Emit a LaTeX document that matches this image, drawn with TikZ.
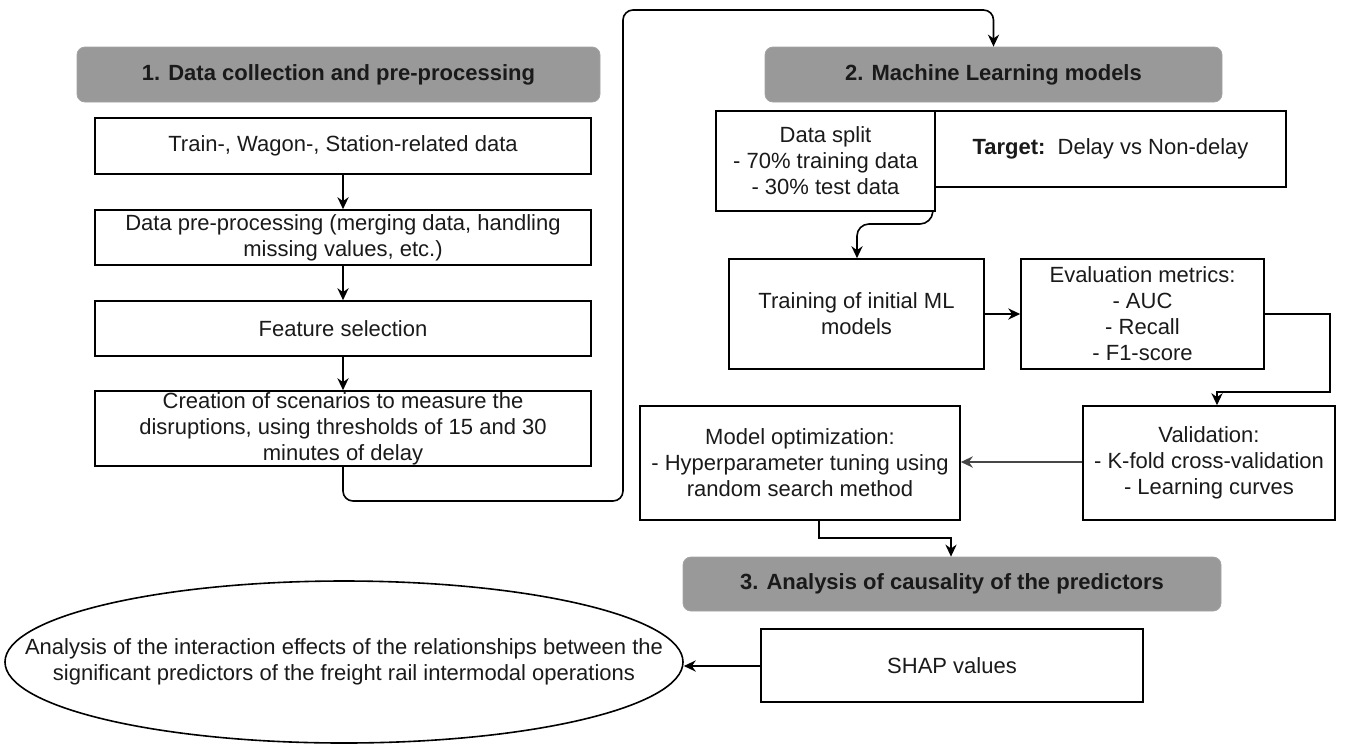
\documentclass[tikz,border=0pt]{standalone}
\usepackage{fontspec}
\setmainfont{Liberation Sans}
\usetikzlibrary{arrows.meta,shapes.geometric}
\definecolor{hdrgray}{HTML}{999999}
\definecolor{txt}{HTML}{1A1A1A}
\tikzset{
  box/.style={draw, line width=0.8pt, align=center, inner sep=0pt, text=txt, font=\fontsize{11}{13}\selectfont},
  lbl/.style={align=center, inner sep=0pt, text=txt, font=\fontsize{11}{13}\selectfont},
  hdr/.style={fill=hdrgray, draw=hdrgray!90!white, rounded corners=4pt, align=center, inner sep=0pt, text=txt, font=\fontsize{11}{13}\selectfont\bfseries},
  conn/.style={draw, line width=0.8pt, -{Stealth[length=6pt,width=5.6pt]}},
  wh/.style 2 args={minimum width=#1, minimum height=#2}
}
\begin{document}
\begin{tikzpicture}[x=0.5pt,y=-0.5pt]
\useasboundingbox (0,0) rectangle (1355,745);
% headers
\node[hdr, wh={261.5pt}{27.5pt}] (h1) at (338.5,74.5) {1. Data collection and pre-processing};
\node[hdr, wh={228.5pt}{27.5pt}] (h2) at (993.5,74.5) {2. Machine Learning models};
\node[hdr, wh={269pt}{27pt}] (h3) at (952,584) {3. Analysis of causality of the predictors};
% left column
\node[box, wh={248pt}{28pt}] (train) at (343,146) {Train-, Wagon-, Station-related data};
\node[box, wh={248pt}{27.5pt}] (prep) at (343,237.5) {Data pre-processing (merging data, handling\\missing values, etc.)};
\node[box, wh={248pt}{27.5pt}] (feat) at (343,328.5) {Feature selection};
\node[box, wh={248pt}{37.5pt}] (creat) at (343,428.5) {Creation of scenarios to measure the\\disruptions, using thresholds of 15 and 30\\minutes of delay};
% section 2
\node[box, wh={175.5pt}{38pt}] (target) at (1110.5,149) {\textbf{Target:}\ \ Delay vs Non-delay};
\node[box, fill=white, wh={109.5pt}{50pt}] (split) at (825.5,161) {Data split\\- 70\% training data\\- 30\% test data};
\node[box, wh={127.5pt}{55pt}] (trml) at (856.5,314) {Training of initial ML\\models};
\node[box, wh={121.5pt}{55pt}] (eval) at (1142.5,314) {Evaluation metrics:\\- AUC\\- Recall\\- F1-score};
\node[box, wh={126pt}{57pt}] (valid) at (1209,463) {Validation:\\- K-fold cross-validation\\- Learning curves};
\node[box, wh={160pt}{57pt}] (opt) at (800,463) {Model optimization:\\- Hyperparameter tuning using\\random search method};
% section 3
\node[box, wh={191pt}{36.5pt}] (shap) at (952,665.5) {SHAP values};
\node[draw, line width=0.8pt, ellipse, inner sep=0pt, wh={339pt}{81pt}] (ell) at (344,662) {};
\node[lbl] (elltext) at (ell.center) {Analysis of the interaction effects of the relationships between the\\significant predictors of the freight rail intermodal operations};
% connectors
\draw[conn] (train) -- (prep);
\draw[conn] (prep) -- (feat);
\draw[conn] (feat) -- (creat);
\draw[conn, rounded corners=5pt] (creat.south) -- (343,501) -- (623,501) -- (623,10) -- (993.5,10) -- (h2.north);
\draw[conn, rounded corners=6pt] ([xshift=-1.5pt]split.south east) -- (932,224) -- (857,224) -- ([xshift=0.25pt]trml.north);
\draw[conn] (trml) -- (eval);
\draw[conn] (eval.east) -- (1330,314) -- (1330,392) -- (1217,392) -- ([xshift=4pt]valid.north);
\draw[draw=gray!55!black, line width=1.1pt, -{Stealth[length=6pt,width=5.6pt]}] (valid.west |- 0,462) -- (opt.east |- 0,462);
\draw[conn] (819,520) -- (819,538) -- (951,538) -- ([xshift=-0.5pt]h3.north);
\draw[conn] (shap.west |- 0,666) -- (ell.east |- 0,666);
\end{tikzpicture}
\end{document}
